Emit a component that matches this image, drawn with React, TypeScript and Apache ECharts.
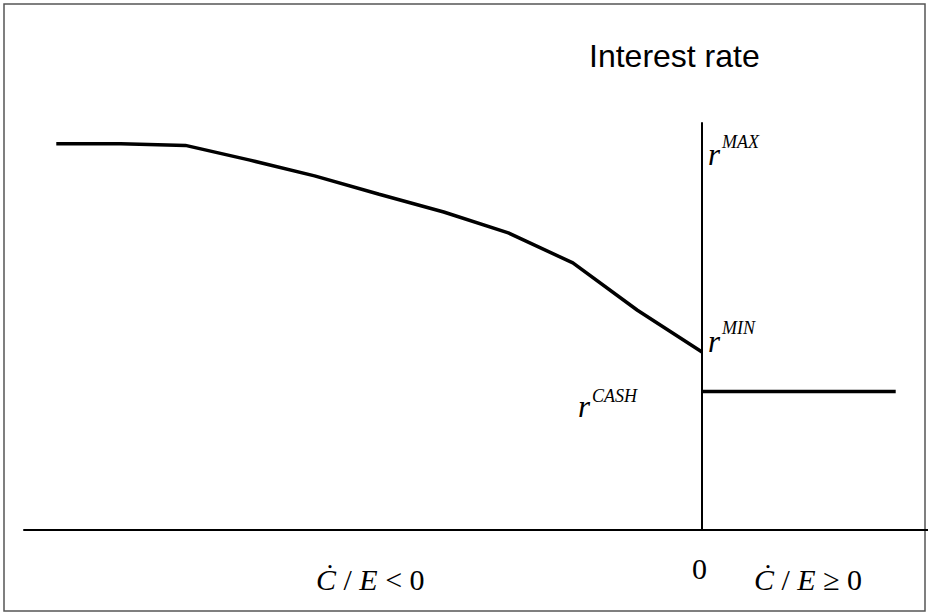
import React, { useEffect, useRef } from "react";
import * as echarts from "echarts";

// Ċ/E values (x) and interest rate (y)
const curveX = [-10, -9, -8, -7, -6, -5, -4, -3, -2, -1, 0];
const curveY = [7.59, 7.59, 7.56, 7.27, 6.96, 6.6, 6.25, 5.84, 5.25, 4.32, 3.5];
const cashX = [0, 3];
const cashY = [2.72, 2.72];

const xMin = -10.5;
const xMax = 3.5;
const yMin = 0;
const yMax = 8;

const serif = "'Liberation Serif', 'Times New Roman', serif";
const sans = "'Liberation Sans', Arial, sans-serif";

export default function App() {
  const ref = useRef<HTMLDivElement>(null);

  useEffect(() => {
    if (!ref.current) return;
    const chart = echarts.init(ref.current, null, { renderer: "svg" });

    const curveData = curveX.map((x, i) => [x, curveY[i]]);
    const cashData = cashX.map((x, i) => [x, cashY[i]]);

    const sup = (x: number, y: number, base: string, s: string, dy: number) => [
      {
        type: "text",
        x,
        y,
        style: {
          text: base,
          fontFamily: serif,
          fontStyle: "italic",
          fontSize: 31,
          fill: "#000",
          verticalAlign: "middle",
        },
      },
      {
        type: "text",
        x: x + 14,
        y: y + dy,
        style: {
          text: s,
          fontFamily: serif,
          fontStyle: "italic",
          fontSize: 18,
          fill: "#000",
          verticalAlign: "middle",
        },
      },
    ];

    const bottomLabel = (x: number, y: number, text: string) => ({
      type: "text",
      x,
      y,
      style: {
        text,
        fontFamily: serif,
        fontSize: 30,
        fill: "#000",
        verticalAlign: "middle",
        rich: {
          i: { fontStyle: "italic", fontFamily: serif, fontSize: 30 },
          n: { fontFamily: serif, fontSize: 30 },
        },
      },
    });

    chart.setOption({
      animation: false,
      backgroundColor: "#fff",
      grid: { left: 24, right: 0, top: 123, bottom: 84 },
      xAxis: {
        type: "value",
        min: xMin,
        max: xMax,
        axisLine: { show: true, onZero: false, lineStyle: { color: "#000", width: 2 } },
        axisTick: { show: false },
        axisLabel: { show: false },
        splitLine: { show: false },
      },
      yAxis: {
        type: "value",
        min: yMin,
        max: yMax,
        axisLine: { show: true, onZero: true, lineStyle: { color: "#000", width: 2 } },
        axisTick: { show: false },
        axisLabel: { show: false },
        splitLine: { show: false },
      },
      series: [
        {
          type: "line",
          data: curveData,
          symbol: "none",
          lineStyle: { color: "#000", width: 3.5 },
        },
        {
          type: "line",
          data: cashData,
          symbol: "none",
          lineStyle: { color: "#000", width: 3.5 },
        },
      ],
      graphic: [
        {
          type: "rect",
          shape: { x: 4, y: 4, width: 921, height: 607 },
          style: { fill: "none", stroke: "#555", lineWidth: 1.5 },
          silent: true,
        },
        {
          type: "text",
          x: 589,
          y: 56,
          style: {
            text: "Interest rate",
            fontFamily: sans,
            fontSize: 32,
            fill: "#000",
            verticalAlign: "middle",
          },
        },
        ...sup(708, 154, "r", "MAX", -12),
        ...sup(708, 341, "r", "MIN", -13),
        ...sup(578, 406, "r", "CASH", -10),
        {
          type: "text",
          x: 692,
          y: 568,
          style: {
            text: "0",
            fontFamily: serif,
            fontSize: 30,
            fill: "#000",
            verticalAlign: "middle",
          },
        },
        bottomLabel(316, 579, "{i|Ċ}{n| / }{i|E}{n| < 0}"),
        bottomLabel(754, 579, "{i|Ċ}{n| / }{i|E}{n| ≥ 0}"),
      ],
    });

    return () => chart.dispose();
  }, []);

  return (
    <div
      ref={ref}
      style={{ position: "fixed", left: 0, top: 0, width: 928, height: 614 }}
    />
  );
}
